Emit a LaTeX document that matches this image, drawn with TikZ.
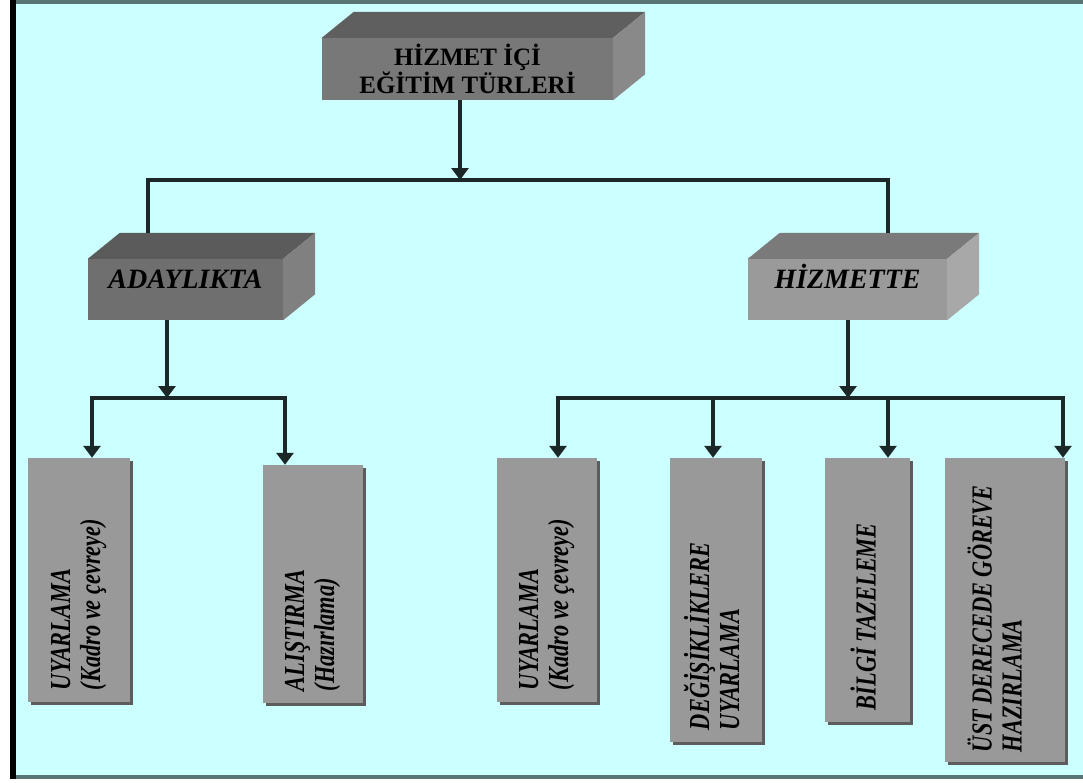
\documentclass[tikz,border=0pt]{standalone}
\usepackage{fontspec}
\setmainfont{Liberation Serif}
\usetikzlibrary{arrows.meta,shadows}

\definecolor{bgcyan}{HTML}{CCFFFF}
\definecolor{framegray}{HTML}{587474}
\definecolor{linecol}{HTML}{1C2828}
\definecolor{leafgray}{HTML}{999999}
\definecolor{leafshadow}{HTML}{5C5C5C}
\definecolor{rootfront}{HTML}{787878}
\definecolor{roottop}{HTML}{5F5F5F}
\definecolor{rootside}{HTML}{898989}
\definecolor{adayfront}{HTML}{6F6F6F}
\definecolor{adaytop}{HTML}{5B5B5B}
\definecolor{adayside}{HTML}{808080}
\definecolor{hizmfront}{HTML}{9A9A9A}
\definecolor{hizmtop}{HTML}{7A7A7A}
\definecolor{hizmside}{HTML}{A8A8A8}

% top and side faces of a box node
\newcommand{\cubefaces}[3]{%
  \fill[#2] (#1.north west) -- ([shift={(32pt,26pt)}]#1.north west) -- ([shift={(32pt,26pt)}]#1.north east) -- (#1.north east) -- cycle;
  \fill[#3] (#1.north east) -- ([shift={(32pt,26pt)}]#1.north east) -- ([shift={(32pt,26pt)}]#1.south east) -- (#1.south east) -- cycle;}
\newcommand{\vlabel}[1]{\scalebox{0.77}[1]{\begin{tabular}{@{}l@{}}#1\end{tabular}}}

\begin{document}
\begin{tikzpicture}[x=1pt,y=-1pt,
    >={Triangle[width=17pt,length=12pt]},
    conn/.style={draw=linecol, line width=3.5pt},
    cube/.style={inner sep=0pt},
    branch/.style={font=\fontsize{28}{28}\selectfont\bfseries\itshape, text height=19pt, text depth=22pt},
    leaf/.style={fill=leafgray, inner sep=0pt, drop shadow={shadow xshift=3pt, shadow yshift=-3pt, fill=leafshadow, opacity=1}},
    leaftext/.style={rotate=90, anchor=west, inner sep=0pt, font=\fontsize{29}{30}\selectfont\bfseries\itshape}]
    \useasboundingbox (0,0) rectangle (1083,782);
    % frame
    \fill[white] (0,0) rectangle (1083,782);
    \fill[bgcyan] (16,4) rectangle (1083,776);
    \fill[framegray] (16,0) rectangle (1083,4);
    \fill[framegray] (16,775) rectangle (1083,779);
    \fill[black] (10,0) rectangle (16,779);

    % boxes
    \node[cube, fill=rootfront, minimum width=291pt, minimum height=62pt, align=center,
          font=\fontsize{25}{25}\selectfont\bfseries] (root) at (467.5,69) {HİZMET İÇİ\\EĞİTİM TÜRLERİ};
    \cubefaces{root}{roottop}{rootside}
    \node[cube, branch, fill=adayfront, minimum width=195pt, minimum height=61pt] (aday) at (185.5,289.5) {ADAYLIKTA};
    \cubefaces{aday}{adaytop}{adayside}
    \node[cube, branch, fill=hizmfront, minimum width=199pt, minimum height=61pt] (hizm) at (847.5,289.5) {HİZMETTE};
    \cubefaces{hizm}{hizmtop}{hizmside}

    \node[leaf, minimum width=102pt, minimum height=244pt] (uyar1) at (79,580) {};
    \node[leaftext] (uyar1t) at ([yshift=12pt]uyar1.south) {\vlabel{UYARLAMA\\(Kadro ve çevreye)}};
    \node[leaf, minimum width=100pt, minimum height=238pt] (alis) at (313,584) {};
    \node[leaftext] (alist) at ([yshift=12pt]alis.south) {\vlabel{ALIŞTIRMA\\(Hazırlama)}};
    \node[leaf, minimum width=100pt, minimum height=244pt] (uyar2) at (547,580) {};
    \node[leaftext] (uyar2t) at ([yshift=12pt]uyar2.south) {\vlabel{UYARLAMA\\(Kadro ve çevreye)}};
    \node[leaf, minimum width=92pt, minimum height=284pt] (degi) at (716,600) {};
    \node[leaftext] (degit) at ([yshift=12pt]degi.south) {\vlabel{DEĞİŞİKLİKLERE\\UYARLAMA}};
    \node[leaf, minimum width=85pt, minimum height=264pt] (bilgi) at (867.5,590) {};
    \node[leaftext] (bilgit) at ([yshift=12pt]bilgi.south) {\vlabel{BİLGİ TAZELEME}};
    \node[leaf, minimum width=120pt, minimum height=304pt] (ustd) at (1005,610) {};
    \node[leaftext] (ustdt) at ([xshift=-6pt,yshift=10pt]ustd.south) {\vlabel{ÜST DERECEDE GÖREVE\\HAZIRLAMA}};

    % connectors
    \coordinate (rootsplit) at (460,180);
    \coordinate (splitL) at (148,180);
    \coordinate (splitR) at (888,180);
    \coordinate (adayback) at ([yshift=26pt]aday.north);
    \coordinate (hizmback) at ([yshift=26pt]hizm.north);
    \draw[conn,->] (root.south -| rootsplit) -- (rootsplit);
    \draw[conn] (splitL |- adayback) -- (splitL) -- (splitR) -- (splitR |- hizmback);

    \coordinate (adaysplit) at (167,398);
    \coordinate (barLa) at (92,398);
    \coordinate (barLb) at (285,398);
    \draw[conn,->] (aday.south -| adaysplit) -- (adaysplit);
    \draw[conn,<->] (barLa |- uyar1.north) -- (barLa) -- (barLb) -- (barLb |- alis.north);

    \coordinate (hizmsplit) at (848,398);
    \coordinate (barRa) at (558,398);
    \coordinate (barRb) at (713,398);
    \coordinate (barRc) at (888,398);
    \coordinate (barRd) at (1063,398);
    \draw[conn,->] (hizm.south -| hizmsplit) -- (hizmsplit);
    \draw[conn,<->] (barRa |- uyar2.north) -- (barRa) -- (barRd) -- (barRd |- ustd.north);
    \draw[conn,->] (barRb) -- (barRb |- degi.north);
    \draw[conn,->] (barRc) -- (barRc |- bilgi.north);
\end{tikzpicture}
\end{document}
